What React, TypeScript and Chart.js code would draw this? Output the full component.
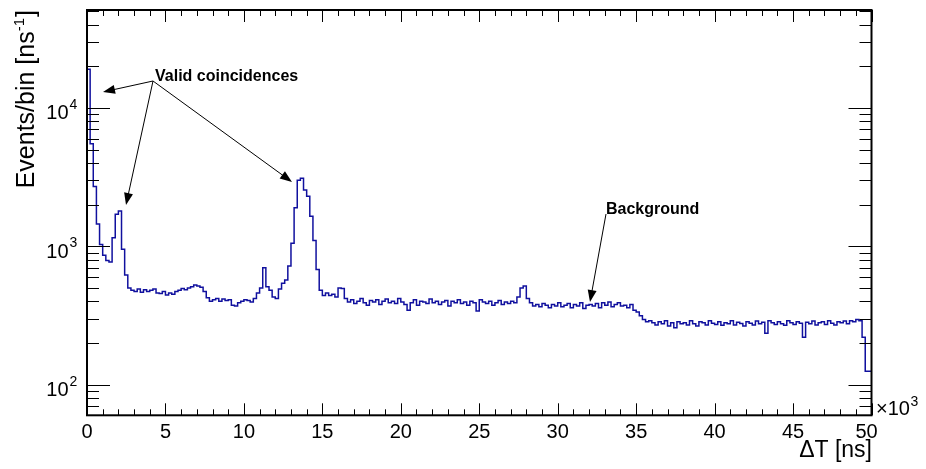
import { useEffect, useRef } from 'react';
import { Chart, registerables } from 'chart.js';

Chart.register(...registerables);

// ---- Data (events per bin), bin width 0.2 x10^3 ns, range 0..50 ----
const X_MIN = 0;
const X_MAX = 50;
const BIN_WIDTH = 0.2;
const Y_MIN = 60;
const Y_MAX = 51000;

const decayAndFirstPeak = [28000, 19000, 5500, 2700, 1450, 1030, 860, 790, 770, 1150, 1700, 1800, 950, 620, 500];
const plateauA = [480, 470, 490, 465, 485, 470, 480, 490, 460, 455, 470, 445, 460, 450, 470, 480, 495, 485, 500, 510, 525, 515, 505, 470, 425, 400, 410, 420, 400, 415, 405, 410, 375, 370, 390, 400, 410, 405, 395, 420, 460, 500, 700, 510, 480, 430, 420, 490, 540];
const secondPeak = [570, 720, 1050, 1900, 3000, 3100, 2550, 2300, 1650, 1100, 680, 480, 440, 460, 440, 450, 430, 500, 495, 420];
const plateauB = [395, 410, 385, 400, 420, 390, 375, 405, 395, 410,
  380, 400, 415, 390, 400, 385, 420, 395, 380, 345,
  390, 410, 375, 400, 395, 385, 415, 390, 400, 380,
  395, 405, 370, 400, 390, 410, 385, 395, 375, 400,
  390, 340, 410, 395, 385, 400, 375, 390, 405, 380,
  395, 385, 400, 390];
const bump28 = [430, 500, 515, 420];
const plateauC = [390, 370, 380, 365, 385, 375, 360, 380, 370, 390, 365, 375, 385, 360, 380, 370, 390, 355, 375, 380, 370, 385, 360, 390, 375, 395, 365, 380, 390, 370, 375, 360, 380];
const stepDown = [345, 335, 315, 295, 285, 290];
const plateauD = [280, 270, 285, 275, 290, 265, 280, 258, 285, 275,
  280, 270, 290, 275, 265, 285, 280, 270, 290, 278,
  272, 285, 268, 280, 275, 290, 270, 282, 276, 265,
  285, 278, 270, 288, 275, 282, 235, 290, 280, 272,
  285, 275, 268, 290, 280, 272, 285, 278, 220, 282,
  275, 288, 270, 280, 285, 272, 290, 278, 270, 285,
  280, 288, 275, 290, 285, 295];
const edgeBins = [290, 220, 125];

const counts = [
  ...decayAndFirstPeak, ...plateauA, ...secondPeak, ...plateauB,
  ...bump28, ...plateauC, ...stepDown, ...plateauD, ...edgeBins,
];

const xTickLabels = [0, 5, 10, 15, 20, 25, 30, 35, 40, 45, 50];
const yDecades = [2, 3, 4];

const FONT = '"Liberation Sans", Arial, Helvetica, sans-serif';
const LINE_COLOR = '#10109e';

const annotationsText = { valid: 'Valid coincidences', background: 'Background' };

function drawArrow(ctx: CanvasRenderingContext2D, x0: number, y0: number, x1: number, y1: number) {
  const ang = Math.atan2(y1 - y0, x1 - x0);
  const len = 12;
  const hw = 4.5;
  ctx.beginPath();
  ctx.moveTo(x0, y0);
  ctx.lineTo(x1 - Math.cos(ang) * len * 0.8, y1 - Math.sin(ang) * len * 0.8);
  ctx.stroke();
  ctx.beginPath();
  ctx.moveTo(x1, y1);
  ctx.lineTo(x1 - Math.cos(ang) * len - Math.sin(ang) * hw, y1 - Math.sin(ang) * len + Math.cos(ang) * hw);
  ctx.lineTo(x1 - Math.cos(ang) * len + Math.sin(ang) * hw, y1 - Math.sin(ang) * len - Math.cos(ang) * hw);
  ctx.closePath();
  ctx.fill();
}

const rootStylePlugin = {
  id: 'rootStyle',
  beforeDraw(chart: any) {
    const ctx = chart.ctx;
    ctx.save();
    ctx.fillStyle = '#ffffff';
    ctx.fillRect(0, 0, chart.width, chart.height);
    ctx.restore();
  },
  afterDraw(chart: any) {
    const ctx: CanvasRenderingContext2D = chart.ctx;
    const { left, right, top, bottom } = chart.chartArea;
    const xs = chart.scales.x;
    const ys = chart.scales.y;
    ctx.save();
    ctx.strokeStyle = '#000';
    ctx.fillStyle = '#000';

    // ticks
    ctx.lineWidth = 1;
    ctx.beginPath();
    for (let t = X_MIN; t <= X_MAX; t += 1) {
      const px = Math.round(xs.getPixelForValue(t)) + 0.5;
      const len = t % 5 === 0 ? 12 : 6;
      ctx.moveTo(px, bottom);
      ctx.lineTo(px, bottom - len);
      ctx.moveTo(px, top);
      ctx.lineTo(px, top + len);
    }
    for (let d = 1; d <= 4; d++) {
      for (let m = 1; m <= 9; m++) {
        const v = m * Math.pow(10, d);
        if (v < Y_MIN || v > Y_MAX) continue;
        const py = Math.round(ys.getPixelForValue(v)) + 0.5;
        const len = m === 1 ? 23 : 12;
        ctx.moveTo(left, py);
        ctx.lineTo(left + len, py);
        ctx.moveTo(right, py);
        ctx.lineTo(right - len, py);
      }
    }
    ctx.stroke();

    // frame
    ctx.lineWidth = 2;
    ctx.strokeRect(left, top, right - left, bottom - top);

    // x tick labels
    ctx.font = `20px ${FONT}`;
    ctx.textAlign = 'center';
    ctx.textBaseline = 'alphabetic';
    xTickLabels.forEach((t) => {
      let px = xs.getPixelForValue(t);
      if (t === X_MAX) px -= 5;
      ctx.fillText(String(t), px, 437.5);
    });

    // y tick labels 10^n
    yDecades.forEach((d) => {
      const py = ys.getPixelForValue(Math.pow(10, d));
      ctx.font = `20px ${FONT}`;
      ctx.textAlign = 'right';
      ctx.fillText('10', 68.5, py + 11.5);
      ctx.font = `14px ${FONT}`;
      ctx.textAlign = 'left';
      ctx.fillText(String(d), 69.5, py + 1);
    });

    // x10^3 multiplier
    ctx.font = `20px ${FONT}`;
    ctx.textAlign = 'left';
    ctx.fillText('\u00d710', 876, 415);
    const wMul = ctx.measureText('\u00d710').width;
    ctx.font = `14px ${FONT}`;
    ctx.fillText('3', 876 + wMul + 0.5, 406);

    // x title
    ctx.font = `23px ${FONT}`;
    ctx.textAlign = 'right';
    ctx.fillText('\u0394T [ns]', 872, 457);

    // y title (rotated)
    ctx.save();
    ctx.translate(34, top);
    ctx.rotate(-Math.PI / 2);
    ctx.textAlign = 'left';
    const mainFont = `25px ${FONT}`;
    const supFont = `15px ${FONT}`;
    ctx.font = mainFont;
    const p1 = 'Events/bin [ns';
    const w1 = ctx.measureText(p1).width;
    const w3 = ctx.measureText(']').width;
    ctx.font = supFont;
    const w2 = ctx.measureText('-1').width;
    let xp = -(w1 + w2 + w3 + 1);
    ctx.font = mainFont;
    ctx.fillText(p1, xp, 0);
    xp += w1;
    ctx.font = supFont;
    ctx.fillText('-1', xp, -10);
    xp += w2 + 1;
    ctx.font = mainFont;
    ctx.fillText(']', xp, 0);
    ctx.restore();

    // annotations
    ctx.font = `bold 16px ${FONT}`;
    ctx.textAlign = 'left';
    ctx.fillText(annotationsText.valid, 155, 81);
    ctx.fillText(annotationsText.background, 606, 213.5);
    ctx.lineWidth = 1;
    drawArrow(ctx, 153, 81, 103, 92);
    drawArrow(ctx, 153, 81, 126, 205);
    drawArrow(ctx, 153, 81, 292, 182);
    drawArrow(ctx, 606, 214, 590, 302);

    ctx.restore();
  },
};

export default function App() {
  const canvasRef = useRef<HTMLCanvasElement | null>(null);

  useEffect(() => {
    const canvas = canvasRef.current;
    if (!canvas) return;
    const points = counts.map((v, i) => ({ x: X_MIN + i * BIN_WIDTH, y: v }));
    points.push({ x: X_MAX, y: counts[counts.length - 1] });

    const chart = new Chart(canvas, {
      type: 'line',
      data: {
        datasets: [
          {
            data: points,
            borderColor: LINE_COLOR,
            borderWidth: 1.5,
            pointRadius: 0,
            stepped: 'after',
            fill: false,
            tension: 0,
          },
        ],
      },
      options: {
        animation: false,
        responsive: false,
        devicePixelRatio: 1,
        layout: { padding: { left: 87, right: 54.5, top: 10, bottom: 53.7 } },
        plugins: { legend: { display: false }, tooltip: { enabled: false } },
        events: [],
        scales: {
          x: { type: 'linear', min: X_MIN, max: X_MAX, display: false },
          y: { type: 'logarithmic', min: Y_MIN, max: Y_MAX, display: false },
        },
      },
      plugins: [rootStylePlugin],
    });
    return () => chart.destroy();
  }, []);

  return (
    <div style={{ position: 'fixed', left: 0, top: 0, width: 926, height: 469, background: '#fff' }}>
      <canvas ref={canvasRef} width={926} height={469} style={{ display: 'block' }} />
    </div>
  );
}
